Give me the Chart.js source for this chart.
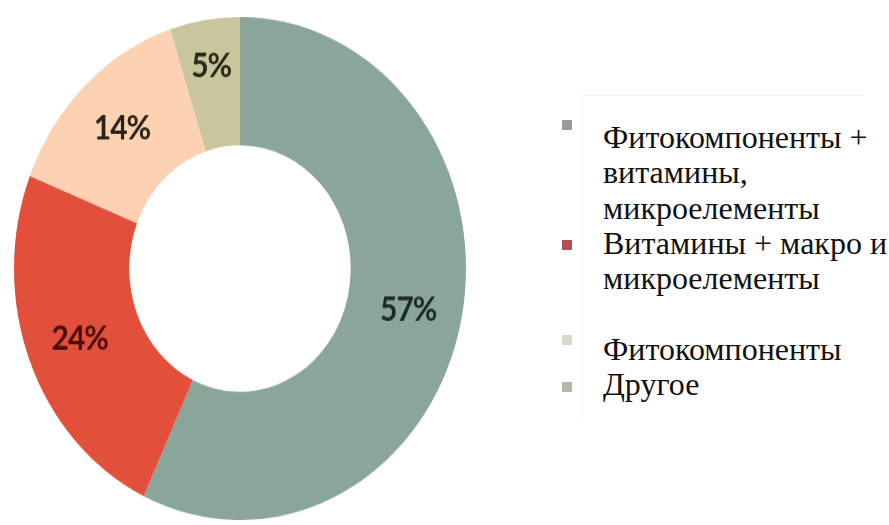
<!DOCTYPE html>
<html>
<head>
<meta charset="utf-8">
<script src="https://cdn.jsdelivr.net/npm/chart.js@4"></script>
<style>
    html, body { margin: 0; padding: 0; background: #fff; }
    body { width: 889px; height: 525px; position: relative; overflow: hidden; }
    #pie-wrap {
        position: absolute; left: 14px; top: 17px; width: 452px; height: 452px;
        transform: scaleY(1.113); transform-origin: 0 0;
        filter: blur(0.5px);
    }
    #legend-box {
        position: absolute; left: 582px; top: 95px; width: 280px; height: 325px;
        border-top: 1px dotted #e2e2e2; border-left: 1px dotted #ececec;
    }
    #legend {
        position: absolute; left: 603px; top: 120px;
        font-family: "Liberation Serif", "Times New Roman", serif;
        font-size: 32px; line-height: 35.3px; color: #111;
    }
    #legend .line { white-space: nowrap; height: 35.3px; }
    .marker {
        position: absolute; left: 562px; width: 10px; height: 10px;
        filter: blur(0.5px);
    }
</style>
</head>
<body>
<div id="pie-wrap"><canvas id="donut"></canvas></div>
<div id="legend-box"></div>
<div id="legend"></div>
<script>
document.addEventListener("DOMContentLoaded", function () {
    const categories = [
        ['Фитокомпоненты +', 'витамины,', 'микроелементы'],
        ['Витамины + макро и', 'микроелементы'],
        ['', 'Фитокомпоненты'],
        ['Другое']
    ];
    const shares = [57, 24, 14, 5];
    const sliceColors = ['#8aa69b', '#e2503c', '#fcd2b2', '#c9c59c'];
    const markerColors = ['#9a9a9a', '#b5505a', '#dcd6c8', '#b4b8aa'];
    const labelColors = ['#1e2a26', '#4a0e0a', '#2a2218', '#2a2a1c'];

    // legend marker tops, px
    const markerTops = [120, 240, 335, 382];

    const percentLabels = {
        id: 'percentLabels',
        afterDatasetsDraw(chart) {
            const ctx = chart.ctx;
            const meta = chart.getDatasetMeta(0);
            ctx.save();
            ctx.font = 'bold 30px Lato';
            ctx.letterSpacing = '-1px';
            ctx.textAlign = 'center';
            ctx.textBaseline = 'middle';
            meta.data.forEach((arc, i) => {
                const p = arc.getProps(['x', 'y', 'startAngle', 'endAngle', 'innerRadius', 'outerRadius'], true);
                const mid = (p.startAngle + p.endAngle) / 2;
                // the thin slice gets its label pushed outward
                const r = (p.innerRadius + p.outerRadius) / 2 + (shares[i] < 10 ? 16 : 4);
                ctx.fillStyle = labelColors[i];
                ctx.fillText(shares[i] + '%', p.x + Math.cos(mid) * r, p.y + Math.sin(mid) * r);
            });
            ctx.restore();
        }
    };

    new Chart(document.getElementById('donut'), {
        type: 'doughnut',
        data: {
            labels: categories.map(c => c.filter(Boolean).join(' ')),
            datasets: [{
                data: shares,
                backgroundColor: sliceColors,
                borderWidth: 0
            }]
        },
        options: {
            responsive: true,
            maintainAspectRatio: false,
            animation: false,
            cutout: '49%',
            layout: { padding: 0 },
            plugins: {
                legend: { display: false },
                tooltip: { enabled: false }
            }
        },
        plugins: [percentLabels]
    });

    // html legend built from the same arrays
    const legend = document.getElementById('legend');
    categories.forEach((lines, i) => {
        lines.forEach(t => {
            const div = document.createElement('div');
            div.className = 'line';
            div.textContent = t;
            legend.appendChild(div);
        });
        const m = document.createElement('div');
        m.className = 'marker';
        m.style.top = markerTops[i] + 'px';
        m.style.background = markerColors[i];
        document.body.appendChild(m);
    });
});
</script>
</body>
</html>
